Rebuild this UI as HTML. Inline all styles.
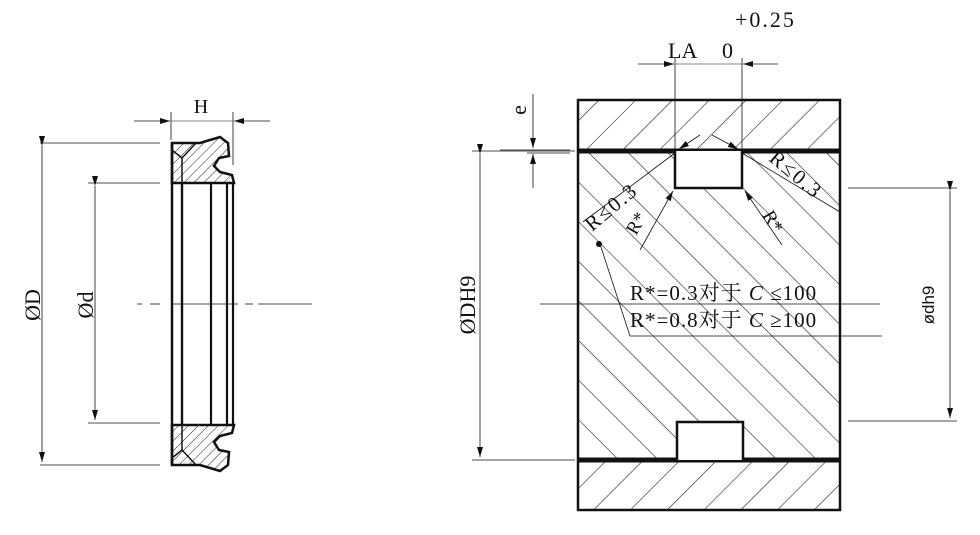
<!DOCTYPE html>
<html><head><meta charset="utf-8"><style>
html,body{margin:0;padding:0;background:#fff;}
svg{display:block;}
text{font-family:"Liberation Serif","Noto Serif CJK SC",serif;fill:#111;}
</style></head><body>
<svg width="980" height="535" viewBox="0 0 980 535" xmlns="http://www.w3.org/2000/svg">
<defs>
<pattern id="hf" width="26" height="26" patternUnits="userSpaceOnUse" patternTransform="rotate(45)"><line x1="0" y1="0" x2="0" y2="26" stroke="#222" stroke-width="1.2"/></pattern>
<pattern id="hb" width="28" height="28" patternUnits="userSpaceOnUse" patternTransform="rotate(-45)"><line x1="0" y1="0" x2="0" y2="28" stroke="#222" stroke-width="1.2"/></pattern>
<pattern id="hs" width="7" height="7" patternUnits="userSpaceOnUse" patternTransform="rotate(45)"><line x1="0" y1="0" x2="0" y2="7" stroke="#222" stroke-width="1"/></pattern>
<marker id="a" viewBox="0 0 10 6" refX="10" refY="3" markerWidth="10" markerHeight="6" orient="auto" markerUnits="userSpaceOnUse"><path d="M0,0 L10,3 L0,6 Z" fill="#111"/></marker>
</defs>

<!-- LEFT SEAL -->
<g stroke="#111" fill="none">
<line x1="40" y1="143" x2="160" y2="143" stroke-width="0.8"/>
<line x1="40" y1="465" x2="160" y2="465" stroke-width="0.8"/>
<line x1="88" y1="183" x2="160" y2="183" stroke-width="0.8"/>
<line x1="88" y1="423" x2="160" y2="423" stroke-width="0.8"/>
<line x1="42" y1="146" x2="42" y2="462" stroke-width="0.8" marker-start="url(#a)" marker-end="url(#a)"/>
<line x1="95" y1="186" x2="95" y2="420" stroke-width="0.8" marker-start="url(#a)" marker-end="url(#a)"/>
<line x1="137" y1="304" x2="142" y2="304" stroke-width="0.8"/>
<line x1="150" y1="304" x2="160" y2="304" stroke-width="0.8"/>
<line x1="172" y1="304" x2="238" y2="304" stroke-width="0.8"/>
<line x1="245" y1="304" x2="253" y2="304" stroke-width="0.8"/>
<line x1="258" y1="304" x2="312" y2="304" stroke-width="0.8"/>
<line x1="171" y1="112" x2="171" y2="140" stroke-width="0.8"/>
<line x1="233" y1="112" x2="233" y2="165" stroke-width="0.8"/>
<line x1="134" y1="121" x2="170" y2="121" stroke-width="0.8" marker-end="url(#a)"/>
<line x1="270" y1="121" x2="234" y2="121" stroke-width="0.8" marker-end="url(#a)"/>
<line x1="171" y1="121" x2="233" y2="121" stroke-width="0.6"/>
<path d="M172,143 L200,143 L220,137 L228,143 L229,156 L219,158 L214,166 L220,172 L232,175 L234,183 L172,183 Z" fill="url(#hs)" stroke-width="2.5"/>
<path d="M172,465 L200,465 L220,471 L228,465 L229,452 L219,450 L214,442 L220,436 L232,433 L234,425 L172,425 Z" fill="url(#hs)" stroke-width="2.5"/>
<path d="M182,183 L182,158 L196,143 M182,425 L182,450 L196,465 M182,158 L172,150 M182,450 L172,458" stroke-width="1.5"/>
<line x1="172" y1="143" x2="172" y2="465" stroke-width="2.5"/>
<line x1="182" y1="183" x2="182" y2="425" stroke-width="2.4"/>
<line x1="211" y1="183" x2="211" y2="425" stroke-width="2.2"/>
<line x1="227" y1="183" x2="227" y2="425" stroke-width="2.2"/>
<line x1="233" y1="183" x2="233" y2="425" stroke-width="2.2"/>
</g>
<text transform="translate(40,305) rotate(-90)" font-size="22" text-anchor="middle">ØD</text>
<text transform="translate(93,305) rotate(-90)" font-size="22" text-anchor="middle">Ød</text>
<text x="201" y="113" font-size="20" text-anchor="middle">H</text>

<!-- RIGHT BLOCK -->
<rect x="578" y="100" width="262" height="51" fill="url(#hf)"/>
<rect x="578" y="460" width="262" height="50" fill="url(#hf)"/>
<path d="M578,151 H675 V188 H742 V151 H840 V460 H743 V422 H677 V460 H578 Z" fill="url(#hb)"/>
<g stroke="#111" fill="none">
<rect x="578" y="100" width="262" height="410" stroke-width="2.5"/>
<line x1="578" y1="151" x2="840" y2="151" stroke-width="5"/>
<line x1="578" y1="460" x2="840" y2="460" stroke-width="5"/>
<path d="M675,151 V188 H742 V151" stroke-width="2.5" fill="#fff"/>
<path d="M677,460 V422 H743 V460" stroke-width="2.5" fill="#fff"/>
<line x1="675" y1="58" x2="675" y2="151" stroke-width="0.8"/>
<line x1="742" y1="58" x2="742" y2="151" stroke-width="0.8"/>
<line x1="638" y1="64" x2="674" y2="64" stroke-width="0.8" marker-end="url(#a)"/>
<line x1="778" y1="64" x2="743" y2="64" stroke-width="0.8" marker-end="url(#a)"/>
<line x1="675" y1="64" x2="742" y2="64" stroke-width="0.6"/>
<line x1="533" y1="94" x2="533" y2="148" stroke-width="0.8" marker-end="url(#a)"/>
<line x1="533" y1="188" x2="533" y2="154" stroke-width="0.8" marker-end="url(#a)"/>
<line x1="500" y1="150" x2="570" y2="150" stroke-width="0.8"/>
<line x1="527" y1="153" x2="570" y2="153" stroke-width="0.8"/>
<line x1="472" y1="151" x2="575" y2="151" stroke-width="0.8"/>
<line x1="472" y1="460" x2="575" y2="460" stroke-width="0.8"/>
<line x1="480" y1="154" x2="480" y2="457" stroke-width="0.8" marker-start="url(#a)" marker-end="url(#a)"/>
<line x1="540" y1="304" x2="880" y2="304" stroke-width="0.8"/>
<line x1="848" y1="188" x2="957" y2="188" stroke-width="0.8"/>
<line x1="848" y1="421" x2="957" y2="421" stroke-width="0.8"/>
<line x1="950" y1="191" x2="950" y2="418" stroke-width="0.8" marker-start="url(#a)" marker-end="url(#a)"/>
<line x1="675" y1="153" x2="583" y2="222" stroke-width="0.8"/>
<line x1="742" y1="153" x2="840" y2="212" stroke-width="0.8"/>
<line x1="640" y1="250" x2="673" y2="191" stroke-width="0.8" marker-end="url(#a)"/>
<line x1="782" y1="245" x2="745" y2="191" stroke-width="0.8" marker-end="url(#a)"/>
<line x1="700" y1="135" x2="679" y2="149" stroke-width="0.8" marker-end="url(#a)"/>
<line x1="712" y1="135" x2="738" y2="149" stroke-width="0.8" marker-end="url(#a)"/>
<path d="M600,244 L630,336 L882,336" stroke-width="0.8"/>
</g>
<circle cx="599" cy="244" r="3" fill="#111"/>
<text x="735" y="27" font-size="22" letter-spacing="2">+0.25</text>
<text x="668" y="58" font-size="22">LA</text>
<text x="722" y="58" font-size="22">0</text>
<text transform="translate(526,110) rotate(-90)" font-size="22" text-anchor="middle">e</text>
<text transform="translate(475,305) rotate(-90)" font-size="22" text-anchor="middle">ØDH9</text>
<text transform="translate(934,305) rotate(-90)" font-size="17" text-anchor="middle" style="font-family:'Liberation Sans',sans-serif">ødh9</text>
<text transform="translate(592,232) rotate(-40)" font-size="21" letter-spacing="2">R≤0.3</text>
<text transform="translate(768,160) rotate(40)" font-size="21" letter-spacing="2">R≤0.3</text>
<text transform="translate(636,236) rotate(-60)" font-size="19">R*</text>
<text transform="translate(762,215) rotate(60)" font-size="19">R*</text>
<text x="630" y="300" font-size="21" letter-spacing="1">R*=0.3对于 <tspan font-style="italic">C</tspan> ≤100</text>
<text x="630" y="327" font-size="21" letter-spacing="1">R*=0.8对于 <tspan font-style="italic">C</tspan> ≥100</text>
</svg>
</body></html>
